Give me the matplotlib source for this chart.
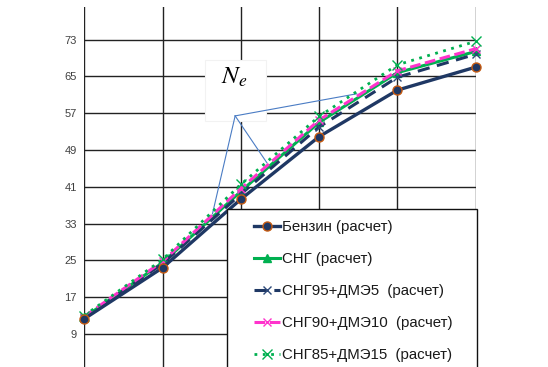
import matplotlib
matplotlib.use("Agg")
import matplotlib.pyplot as plt
from matplotlib.patches import Rectangle

# ---- data ----
x_idx = [0, 1, 2, 3, 4, 5]
benzin = [12.3, 23.4, 38.3, 51.9, 62.0, 67.0]
sng = [12.6, 24.5, 40.0, 55.0, 65.8, 70.4]
sng95 = [12.5, 24.3, 39.4, 54.0, 64.8, 69.8]
sng90 = [12.8, 24.8, 40.6, 55.5, 66.2, 71.0]
sng85 = [13.0, 25.2, 41.5, 56.3, 67.5, 72.6]
labels = ["Бензин (расчет)", "СНГ (расчет)", "СНГ95+ДМЭ5  (расчет)",
          "СНГ90+ДМЭ10  (расчет)", "СНГ85+ДМЭ15  (расчет)"]
yticks = [9, 17, 25, 33, 41, 49, 57, 65, 73]

plt.rcParams['font.family'] = ['Liberation Sans', 'DejaVu Sans']
plt.rcParams['mathtext.fontset'] = 'stix'

W, H = 548, 367
fig = plt.figure(figsize=(W / 100, H / 100), dpi=100)

def fx(px):
    return px / W

def fy(py):
    return 1 - py / H

ax = fig.add_axes([fx(84.3), fy(370.8), fx(475.7) - fx(84.3), fy(7.3) - fy(370.8)])
ax.set_xlim(0, 5)
ax.set_ylim(1, 80)
for s in ax.spines.values():
    s.set_visible(False)
ax.set_yticks(yticks)
ax.set_yticklabels([str(v) for v in yticks])
ax.set_xticks(x_idx)
ax.set_xticklabels([])
ax.tick_params(axis='both', length=0)
ax.tick_params(axis='y', pad=5.5, labelsize=8, labelcolor='#404040')
ax.grid(True, color='#222222', linewidth=1.0, zorder=0)
ax.set_axisbelow(True)

navy = '#1f3864'
green = '#00b050'
magenta = '#ff33cc'

l1, = ax.plot(x_idx, benzin, color=navy, lw=2.4, marker='o', ms=6.5,
              mfc=navy, mec='#c55a11', mew=1.0, zorder=5, label=labels[0], clip_on=False)
l2, = ax.plot(x_idx, sng, color=green, lw=2.2, marker='^', ms=6,
              mfc=green, mec=green, zorder=4, label=labels[1], clip_on=False)
l3, = ax.plot(x_idx, sng95, color=navy, lw=2.2, ls=(0, (4, 2.5)), marker='x', ms=6,
              mec='#2e4a7a', mew=1.0, zorder=4, label=labels[2], clip_on=False)
l4, = ax.plot(x_idx, sng90, color=magenta, lw=2.2, ls=(0, (3.5, 1.5)), marker='x', ms=6,
              mec=magenta, mew=1.0, zorder=4, label=labels[3], clip_on=False)
l5, = ax.plot(x_idx, sng85, color=green, lw=2.0, ls=(0, (1, 2)), marker='x', ms=7,
              mec=green, mew=1.0, zorder=4, label=labels[4], clip_on=False)

# ---- N_e callout ----
ax.add_patch(Rectangle((1.54, 55.2), 0.78, 13.3, facecolor='white',
                       edgecolor='#f2f2f2', lw=0.8, zorder=2))
ax.text(1.92, 64.8, r'$N_e$', fontsize=18, ha='center', va='center', zorder=3)
apex = (1.927, 56.4)
for end in [(1.637, 35.1), (2.333, 46.2), (3.48, 61.2)]:
    ax.plot([apex[0], end[0]], [apex[1], end[1]], color='#4a7cc4', lw=0.8, zorder=3)

# ---- legend ----
fig.patches.append(Rectangle((fx(227), fy(380)), fx(477) - fx(227), fy(209) - fy(380),
                             transform=fig.transFigure, facecolor='white',
                             edgecolor='#111111', lw=1.0, zorder=1))
leg = fig.legend(handles=[l1, l2, l3, l4, l5], loc='upper left',
                 bbox_to_anchor=(fx(254), fy(220)), frameon=False,
                 fontsize=10.8, handlelength=1.75, handletextpad=0.15,
                 labelspacing=1.2, borderpad=0, borderaxespad=0)
for t in leg.get_texts():
    t.set_color('#1a1a1a')
leg.set_zorder(2)

fig.savefig('out.png', dpi=100)
